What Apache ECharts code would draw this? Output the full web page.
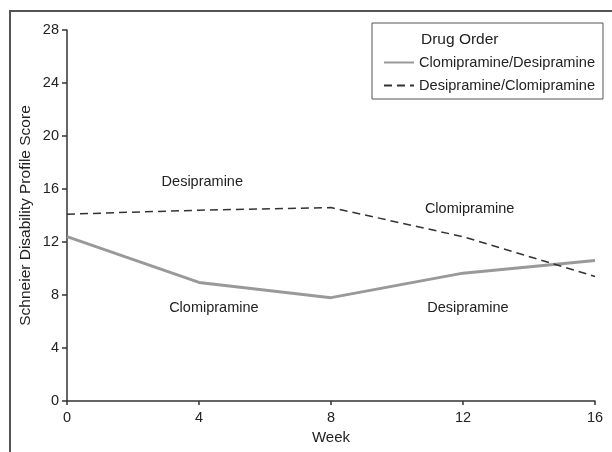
<!DOCTYPE html>
<html>
<head>
<meta charset="utf-8">
<script src="https://cdn.jsdelivr.net/npm/echarts@6/dist/echarts.min.js"></script>
<style>
  html, body { margin: 0; padding: 0; background: #fff; }
  #main { width: 612px; height: 452px; }
</style>
</head>
<body>
<div id="main"></div>
<script>
// weeks and mean scores
var weeks = [0, 4, 8, 12, 16];
var clomiDesi = [12.4, 8.95, 7.8, 9.65, 10.6];
var desiClomi = [14.1, 14.4, 14.6, 12.4, 9.4];
var seriesNames = ['Clomipramine/Desipramine', 'Desipramine/Clomipramine'];
var yTicks = [0, 4, 8, 12, 16, 20, 24, 28];
var crossoverWeek = 8;

// phase labels (text, week, score)
var phaseText = ['Desipramine', 'Clomipramine', 'Clomipramine', 'Desipramine'];
var phaseWeek = [4.1, 4.45, 12.2, 12.15];
var phaseScore = [16.5, 7.0, 14.5, 7.0];

var FONT = '"Liberation Sans", Arial, sans-serif';
var ink = '#222';

var myChart = echarts.init(document.getElementById('main'));

function pairs(vals) {
    return weeks.map(function (w, i) { return [w, vals[i]]; });
}

myChart.setOption({
    animation: false,
    textStyle: { fontFamily: FONT, color: ink },
    grid: { left: 67, right: 17, top: 30, bottom: 51 },
    graphic: [{
        type: 'rect',
        shape: { x: 10, y: 11, width: 700, height: 500 },
        style: { fill: 'none', stroke: '#555', lineWidth: 2 },
        silent: true
    }],
    title: {
        text: 'Drug Order',
        left: 421, top: 32,
        padding: 0,
        textStyle: { fontFamily: FONT, fontSize: 15.5, fontWeight: 'normal', color: ink }
    },
    legend: {
        orient: 'vertical',
        left: 372, top: 23,
        padding: [32, 8, 6, 11],
        itemGap: 8,
        itemWidth: 30, itemHeight: 14,
        borderColor: '#555', borderWidth: 1,
        itemStyle: { color: 'transparent', borderWidth: 0 },
        textStyle: { fontFamily: FONT, fontSize: 14.6, color: ink },
        data: seriesNames
    },
    xAxis: {
        type: 'value', min: 0, max: 16, interval: 4,
        name: 'Week', nameLocation: 'middle', nameGap: 27,
        nameTextStyle: { fontFamily: FONT, fontSize: 15, color: ink },
        axisLine: { lineStyle: { color: '#333', width: 1.5 } },
        axisTick: { length: 4, lineStyle: { color: '#333', width: 1.5 } },
        axisLabel: { fontFamily: FONT, fontSize: 14.5, color: ink, margin: 9 },
        splitLine: { show: false }
    },
    yAxis: {
        type: 'value', min: yTicks[0], max: yTicks[yTicks.length - 1], interval: 4,
        name: 'Schneier Disability Profile Score', nameLocation: 'middle', nameGap: 33,
        nameMoveOverlap: false,
        nameTextStyle: { fontFamily: FONT, fontSize: 15.5, color: ink },
        axisLine: { show: true, lineStyle: { color: '#333', width: 1.5 } },
        axisTick: { show: true, length: 5, lineStyle: { color: '#333', width: 1.5 } },
        axisLabel: { fontFamily: FONT, fontSize: 14.5, color: ink, margin: 8 },
        splitLine: { show: false }
    },
    series: [{
        name: seriesNames[0],
        type: 'line',
        data: pairs(clomiDesi),
        symbol: 'none',
        lineStyle: { color: '#999', width: 3 },
        itemStyle: { color: '#999' },
        z: 3
    }, {
        name: seriesNames[1],
        type: 'line',
        data: pairs(desiClomi),
        symbol: 'none',
        lineStyle: { color: '#333', width: 1.5, type: [8, 5] },
        itemStyle: { color: '#333' },
        z: 4
    }, {
        name: 'phases',
        type: 'line',
        data: [],
        clip: false,
        markLine: {
            silent: true,
            symbol: 'none',
            label: { show: false },
            lineStyle: { color: '#222', type: 'solid', width: 1.5 },
            data: [[{ coord: [crossoverWeek, 0] }, { coord: [crossoverWeek, 28.6] }]]
        },
        markPoint: {
            silent: true,
            symbol: 'circle',
            symbolSize: 0,
            label: {
                show: true, position: 'inside',
                fontFamily: FONT, fontSize: 14.5, color: ink,
                formatter: function (p) { return p.name; }
            },
            data: phaseText.map(function (t, i) {
                return { name: t, coord: [phaseWeek[i], phaseScore[i]] };
            })
        }
    }]
});
</script>
</body>
</html>
